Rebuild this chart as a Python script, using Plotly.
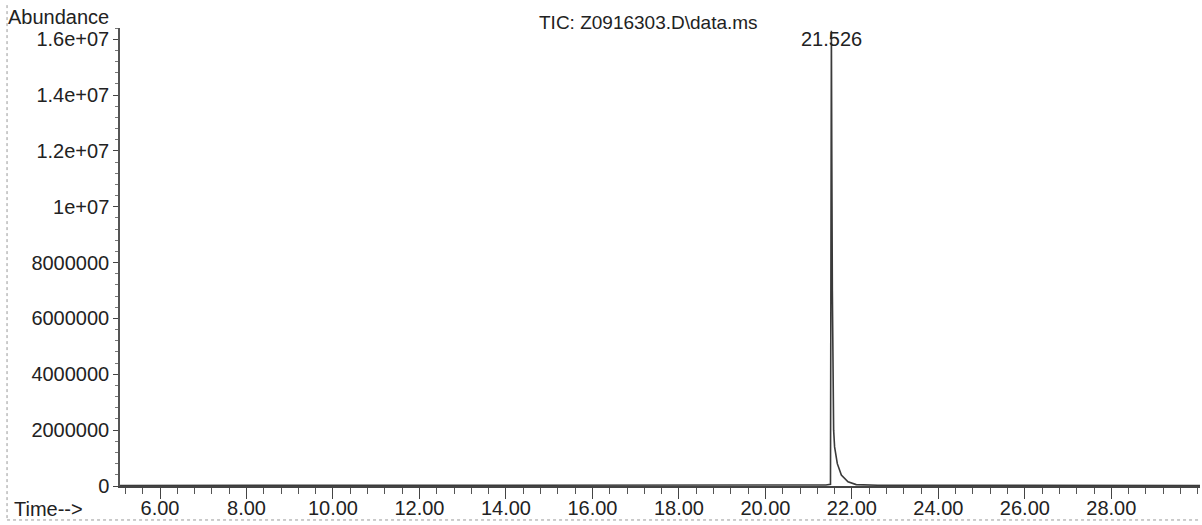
import plotly.graph_objects as go

# ---- data ----
time_min = [5.075, 6.0, 8.0, 10.0, 12.0, 14.0, 16.0, 18.0, 20.0, 21.0, 21.40, 21.505,
            21.526, 21.535, 21.548, 21.565, 21.578, 21.60, 21.663, 21.756, 21.91,
            22.10, 22.37, 22.6, 23.5, 25.0, 27.0, 30.05]
abundance = [20000, 20000, 22000, 22000, 24000, 25000, 25000, 26000, 28000, 30000, 35000, 60000,
             16300000, 12000000, 7000000, 3800000, 2000000, 1400000, 800000, 390000, 150000,
             50000, 32000, 28000, 25000, 22000, 20000, 20000]

peak_time = 21.526
peak_abundance = 16300000
peak_label = "21.526"

x_ticks = [6, 8, 10, 12, 14, 16, 18, 20, 22, 24, 26, 28]
x_labels = ["6.00", "8.00", "10.00", "12.00", "14.00", "16.00", "18.00", "20.00",
            "22.00", "24.00", "26.00", "28.00"]
y_ticks = [0, 2000000, 4000000, 6000000, 8000000, 10000000, 12000000, 14000000, 16000000]
y_labels = ["0", "2000000", "4000000", "6000000", "8000000", "1e+07", "1.2e+07", "1.4e+07", "1.6e+07"]

title_text = "TIC: Z0916303.D\\data.ms"

FONT = "Liberation Sans, Arial, sans-serif"
TXT = "#222222"
AX = "#444444"

fig = go.Figure()
fig.add_trace(go.Scatter(x=time_min, y=abundance, mode="lines",
                         line=dict(color="#3a3a3a", width=1.6), hoverinfo="x+y"))

fig.update_layout(
    width=1202, height=525,
    margin=dict(l=120, r=2, t=28, b=39, autoexpand=False),
    paper_bgcolor="white", plot_bgcolor="white",
    showlegend=False,
    font=dict(family=FONT, size=20, color=TXT),
    xaxis=dict(range=[5.075, 30.05], tickmode="array", tickvals=x_ticks, ticktext=x_labels,
               automargin=False,
               ticks="outside", ticklen=11, tickwidth=1.3, tickcolor=AX,
               ticklabelstandoff=-8,
               showline=True, linecolor=AX, linewidth=1.5, showgrid=False, zeroline=False,
               tickfont=dict(family=FONT, size=20, color=TXT),
               minor=dict(ticks="outside", ticklen=6, tickwidth=1.2, tickcolor="#555555",
                          tick0=0, dtick=0.4, showgrid=False)),
    yaxis=dict(range=[0, 16400000], tickmode="array", tickvals=y_ticks, ticktext=y_labels,
               automargin=False,
               ticks="outside", ticklen=5, tickwidth=1.3, tickcolor=AX,
               showline=True, linecolor="#555555", linewidth=1.5, showgrid=False, zeroline=False,
               tickfont=dict(family=FONT, size=20, color=TXT),
               minor=dict(ticks="outside", ticklen=3, tickwidth=1, tickcolor="#777777",
                          tick0=0, dtick=400000, showgrid=False)),
    annotations=[
        dict(text="Abundance", xref="paper", yref="paper", x=-0.1055, y=1.025,
             xanchor="left", yanchor="middle", showarrow=False,
             font=dict(family=FONT, size=20, color=TXT)),
        dict(text="Time-->", xref="paper", yref="paper", x=-0.1, y=-0.0513,
             xanchor="left", yanchor="middle", showarrow=False,
             font=dict(family=FONT, size=20, color=TXT)),
        dict(text=title_text, xref="paper", yref="paper", x=0.4898, y=1.011,
             xanchor="center", yanchor="middle", showarrow=False,
             font=dict(family=FONT, size=19, color=TXT)),
        dict(text=peak_label, x=peak_time, y=peak_abundance, xref="x", yref="y",
             xanchor="center", yanchor="middle", yshift=-8, showarrow=False,
             font=dict(family=FONT, size=20, color=TXT)),
    ],
    shapes=[
        dict(type="line", xref="paper", yref="paper", x0=-0.1046, x1=-0.1046, y0=1.05, y1=-0.0742,
             line=dict(color="#999999", width=1, dash="dot")),
        dict(type="line", xref="paper", yref="paper", x0=-0.1046, x1=1.0, y0=-0.0742, y1=-0.0742,
             line=dict(color="#999999", width=1, dash="dot")),
    ],
)

fig.write_html("out.html", config={"displayModeBar": False},
               post_script="document.body.style.margin='0px';document.body.style.overflow='hidden';")
